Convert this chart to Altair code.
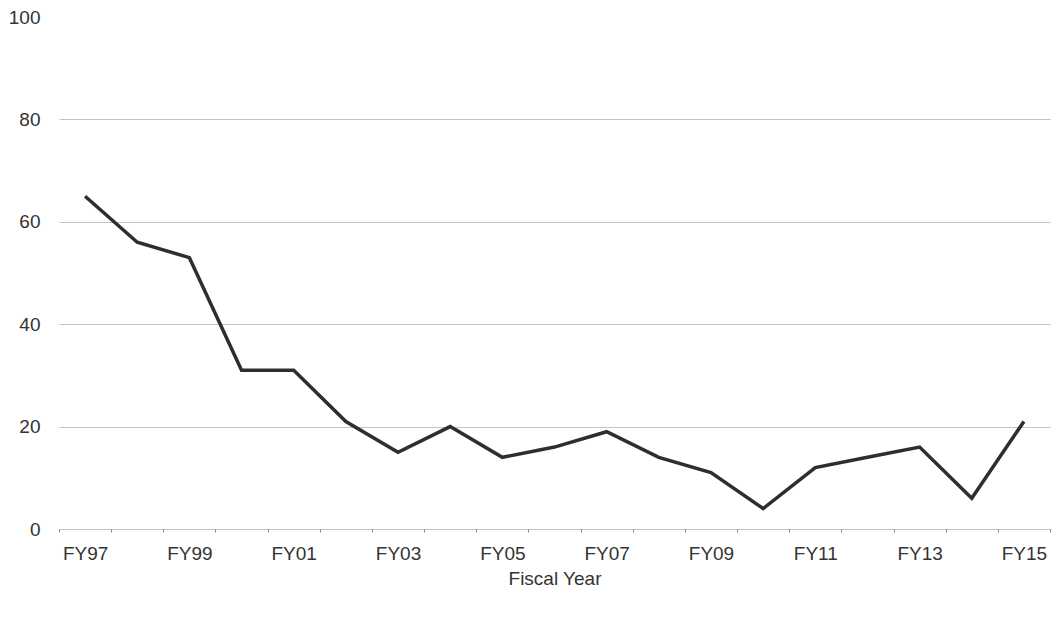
import altair as alt
import pandas as pd

years = ["FY97", "FY98", "FY99", "FY00", "FY01", "FY02", "FY03", "FY04", "FY05", "FY06",
         "FY07", "FY08", "FY09", "FY10", "FY11", "FY12", "FY13", "FY14", "FY15"]
values = [65, 56, 53, 31, 31, 21, 15, 20, 14, 16, 19, 14, 11, 4, 12, 14, 16, 6, 21]
shown_labels = ["FY97", "FY99", "FY01", "FY03", "FY05", "FY07", "FY09", "FY11", "FY13", "FY15"]
y_ticks = [0, 20, 40, 60, 80, 100]

df = pd.DataFrame({"year": years, "value": values})

label_expr = "indexof(" + str(shown_labels).replace('"', "'") + ", datum.value) >= 0 ? datum.value : ''"

chart = alt.Chart(df).mark_line(color="#2e2e2e", strokeWidth=3.5, strokeJoin="miter").encode(
    x=alt.X("year:N", sort=years, title="Fiscal Year",
            scale=alt.Scale(paddingInner=0, paddingOuter=0),
            axis=alt.Axis(labelAngle=0, labelExpr=label_expr, tickBand="extent",
                          tickSize=3, tickColor="#888", labelPadding=12, titlePadding=6,
                          domainColor="#888", domainDash=[1, 1], grid=False)),
    y=alt.Y("value:Q", title=None,
            scale=alt.Scale(domain=[0, 100], nice=False),
            axis=alt.Axis(values=y_ticks, ticks=False, tickSize=0, domain=False, labelPadding=19,
                          gridColor={"condition": {"test": "datum.value == 0 || datum.value == 100",
                                                   "value": "transparent"},
                                     "value": "#c4c4c4"},
                          gridWidth=1)),
).properties(
    width=991, height=512,
    padding={"left": 0, "top": 0, "right": 0, "bottom": 5},
).configure_view(stroke=None).configure_axis(
    labelFont="Liberation Sans", titleFont="Liberation Sans",
    labelFontSize=19, titleFontSize=19, labelColor="#333", titleColor="#333",
    titleFontWeight="normal",
)

chart.save("out.html", embed_options={"renderer": "svg", "actions": False})
